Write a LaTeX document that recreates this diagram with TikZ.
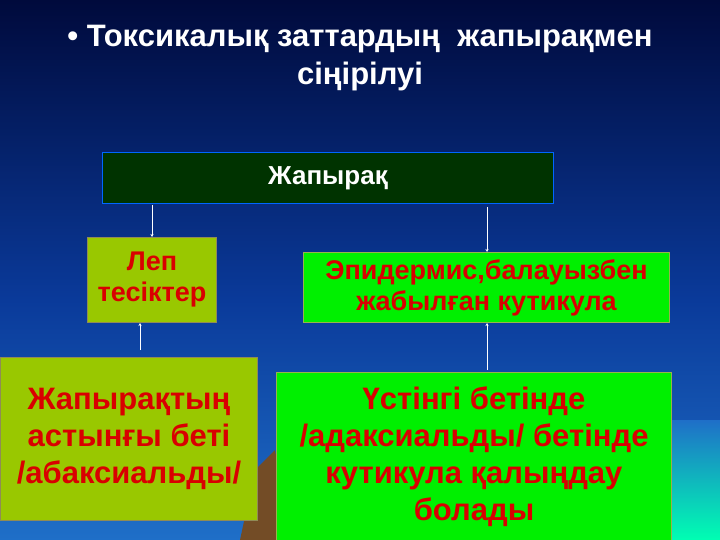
\documentclass[tikz,border=0pt]{standalone}
\usepackage{fontspec}
\usetikzlibrary{arrows.meta}
\setmainfont{Liberation Sans}
\begin{document}
\begin{tikzpicture}[x=1pt,y=-1pt,
  olive/.style={draw=olive!40!gray,line width=1pt,fill=olivebox,text=red!85!black,font=\bfseries\fontsize{27}{31}\selectfont,align=center,anchor=north west,inner sep=0pt},
  lime/.style={draw=lime!40!gray,line width=1pt,fill=limebox,text=red!85!black,font=\bfseries\fontsize{27}{31}\selectfont,align=center,anchor=north west,inner sep=0pt},
  arr/.style={draw=white,line width=0.8pt,-{Stealth[length=3pt,width=3pt]}}]
\definecolor{olivebox}{HTML}{99C800}
\definecolor{limebox}{HTML}{00F000}
\definecolor{topbg}{HTML}{000A3C}
\definecolor{midbg}{HTML}{0A3A9A}
\definecolor{botbg}{HTML}{1F6FC8}
\useasboundingbox (0,0) rectangle (720,540);
\shade[top color=topbg,bottom color=midbg] (0,0) rectangle (720,300);
\shade[top color=midbg,bottom color=botbg] (0,300) rectangle (720,540);
\shade[top color=botbg,bottom color=cyan!70!green] (600,420) rectangle (720,540);
\fill[brown!60!black] (240,540) -- (255,470) -- (275,450) -- (290,540) -- cycle;
\node[text=white,font=\bfseries\fontsize{31}{38}\selectfont,align=center] (t) at (360,58) {\textbullet\ Токсикалық заттардың\ \ жапырақмен\\сіңірілуі};
\node[draw=blue!60!cyan,line width=1pt,fill=black!80!green,minimum width=451pt,minimum height=51pt,anchor=north west,inner sep=0pt,text=white,font=\bfseries\fontsize{26}{30}\selectfont] (z) at (102,152) {Жапырақ};
\node[olive,minimum width=129pt,minimum height=85pt] (l) at (87,237) {Леп\\тесіктер};
\node[lime,minimum width=366pt,minimum height=70pt] (e) at (303,252) {Эпидермис,балауызбен\\жабылған кутикула};
\node[olive,minimum width=257pt,minimum height=163pt,font=\bfseries\fontsize{31}{37}\selectfont] (j) at (0,357) {Жапырақтың\\астынғы беті\\/абаксиальды/};
\node[lime,minimum width=395pt,minimum height=168pt,font=\bfseries\fontsize{31}{37}\selectfont] (u) at (276,372) {Үстінгі бетінде\\/адаксиальды/ бетінде\\кутикула қалыңдау\\болады};
\coordinate (a1) at (152,205); \coordinate (a2) at (487,207);
\coordinate (b1) at (140,350); \coordinate (b2) at (487,370);
\draw[arr] (a1) -- (l.north -| a1);
\draw[arr] (a2) -- (a2 |- e.north);
\draw[arr] (b1) -- (b1 |- l.south);
\draw[arr] (b2) -- (b2 |- e.south);
\end{tikzpicture}
\end{document}
